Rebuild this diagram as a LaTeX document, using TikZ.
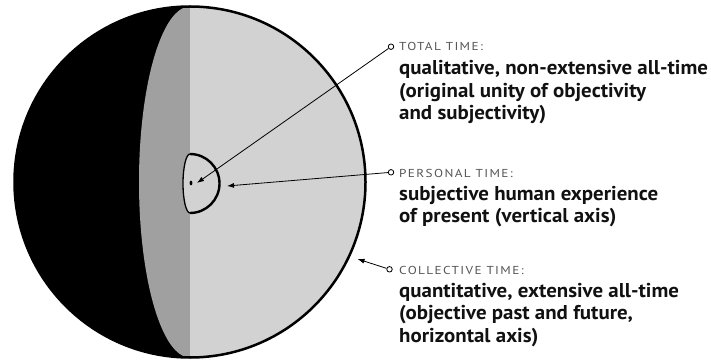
\documentclass[tikz,border=0pt]{standalone}
\usepackage{fontspec}
\setmainfont{PT Sans}
\newfontfamily\labfont[LetterSpace=12,FakeStretch=1.15]{PT Sans}
\newfontfamily\boldfont[FakeStretch=1.045]{PT Sans Bold}
\usetikzlibrary{arrows.meta}
\definecolor{midgray}{HTML}{A0A0A0}
\definecolor{lightgray2}{HTML}{D2D2D2}
\definecolor{labgray}{HTML}{555555}
\definecolor{textblack}{HTML}{111111}
\tikzset{
  marker/.style={circle, draw=black, line width=0.8pt, inner sep=0pt, minimum size=5.5pt, fill=white},
  conn/.style={line width=0.8pt, -{Latex[length=7pt,width=5pt]}},
  lab/.style={anchor=base west, inner sep=0pt, text=labgray, font=\labfont\fontsize{11.5}{13}\selectfont},
  desc/.style={anchor=base west, inner sep=0pt, text=textblack, font=\boldfont\fontsize{20}{24}\selectfont}
}
\begin{document}
\begin{tikzpicture}[x=1pt,y=1pt]
\useasboundingbox (0,0) rectangle (711,359);
% sphere
\fill[black] (190,177) circle[radius=175.5pt];
\fill[midgray] (190,177) ellipse[x radius=51pt, y radius=175.5pt];
\fill[lightgray2] (190,352.5) arc[start angle=90, end angle=-90, radius=175.5pt] -- cycle;
\draw[line width=2.5pt] (190,177) circle[radius=175.5pt];
% personal time shape
\fill[lightgray2] (190,205) arc[start angle=90, end angle=-90, radius=29.5pt]
   arc[start angle=-90, end angle=-270, x radius=7pt, y radius=29.5pt] -- cycle;
\draw[line width=1.3pt] (190,146) arc[start angle=-90, end angle=-270, x radius=7pt, y radius=29.5pt];
\draw[line width=2.4pt] (190,205) arc[start angle=90, end angle=-90, radius=29.5pt];
\fill[black] (191,176) ellipse[x radius=1.4pt, y radius=2.4pt];
% connectors
\coordinate (t1) at (197,176);
\coordinate (t2) at (227,173);
\coordinate (t3) at (357.5,100);
\node[marker] (m1) at (391,312.3) {};
\node[marker] (m2) at (391,186.7) {};
\node[marker] (m3) at (389.5,89.7) {};
\draw[conn] (m1) -- (t1);
\draw[conn] (m2) -- (t2);
\draw[conn] (m3) -- (t3);
% labels
\node[lab] (l1) at (399,308) {TOTAL TIME:};
\node[desc] (d1a) at (399,284) {qualitative, non-extensive all-time};
\node[desc] (d1b) at (399,261.5) {(original unity of objectivity};
\node[desc] (d1c) at (399,239) {and subjectivity)};
\node[lab] (l2) at (399,182) {PERSONAL TIME:};
\node[desc] (d2a) at (399,159) {subjective human experience};
\node[desc] (d2b) at (399,136.5) {of present (vertical axis)};
\node[lab] (l3) at (399,85) {COLLECTIVE TIME:};
\node[desc] (d3a) at (399,62) {quantitative, extensive all-time};
\node[desc] (d3b) at (399,39.5) {(objective past and future,};
\node[desc] (d3c) at (399,17) {horizontal axis)};
\end{tikzpicture}
\end{document}
